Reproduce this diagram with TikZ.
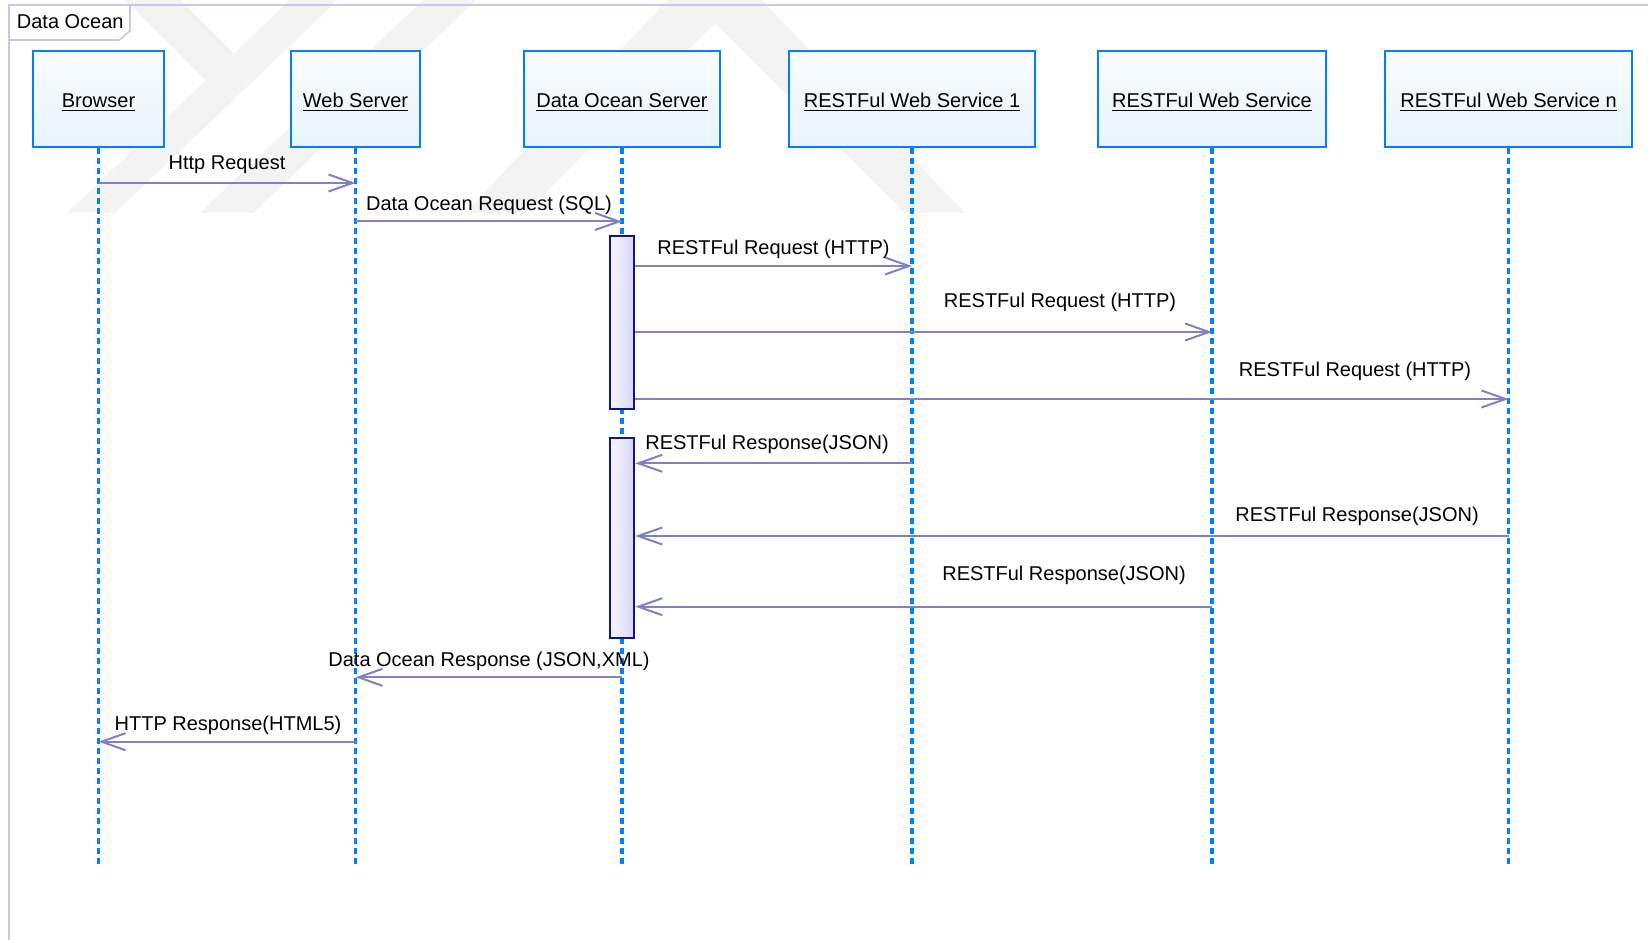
\documentclass[tikz,border=0pt]{standalone}
\usepackage{fontspec}
\setmainfont{Liberation Sans}
\usetikzlibrary{arrows.meta}
\definecolor{llblue}{RGB}{0,128,255}
\definecolor{boxtop}{RGB}{249,252,255}
\definecolor{boxbot}{RGB}{232,244,253}
\definecolor{msgc}{RGB}{128,128,200}
\definecolor{actline}{RGB}{20,20,130}
\definecolor{actl}{RGB}{247,247,255}
\definecolor{actr}{RGB}{214,214,248}
\definecolor{framec}{RGB}{200,200,228}
\definecolor{wmark}{RGB}{243,243,243}
\begin{document}
\begin{tikzpicture}[x=0.5pt,y=-0.5pt,
  every node/.style={font=\fontsize{10pt}{12pt}\selectfont},
  lifebox/.style={draw=llblue, line width=1.2pt, top color=boxtop, bottom color=boxbot, minimum height=48pt, inner sep=0pt, text height=8.7pt, text depth=0pt},
  lifeline/.style={draw=llblue, line width=1.6pt, dash pattern=on 3pt off 2pt},
  actbox/.style={draw=actline, line width=1pt, left color=actl, right color=actr, minimum width=12.25pt, inner sep=0pt},
  msg/.style={draw=msgc, line width=1pt, -{Straight Barb[length=12pt,width=8.5pt]}},
  lbl/.style={anchor=base, inner sep=0pt},
  framestyle/.style={draw=framec, line width=0.8pt},
  wm/.style={fill=wmark}
]
\useasboundingbox (0,0) rectangle (1648,940);
\fill[white] (0,0) rectangle (1648,940);
% watermark
\fill[wm] (67,213) -- (115,213) -- (338,0) -- (290,0) -- cycle;
\fill[wm] (125,0) -- (180,0) -- (233.8,53.8) -- (205.7,80.7) -- cycle;
\fill[wm] (200,213) -- (253,213) -- (476,0) -- (423,0) -- cycle;
\fill[wm] (465,213) -- (668,0) -- (762,0) -- (965,213) -- (905,213) -- (715,23) -- (525,213) -- cycle;
% frame
\draw[framestyle] (9,940) -- (9,5) -- (1648,5);
\draw[framestyle, fill=white] (9,5) -- (130,5) -- (130,31) -- (119,40) -- (9,40) -- cycle;
\node[anchor=base west, inner sep=0pt] (framelabel) at (16.5,28.3) {Data Ocean};
% lifeline heads
\node[lifebox, minimum width=65.5pt] (browser) at (98.5,99) {\underline{Browser}};
\node[lifebox, minimum width=64.5pt] (websrv) at (355.5,99) {\underline{Web Server}};
\node[lifebox, minimum width=98pt] (dos) at (622,99) {\underline{Data Ocean Server}};
\node[lifebox, minimum width=123pt] (ws1) at (912,99) {\underline{RESTFul Web Service 1}};
\node[lifebox, minimum width=114pt] (ws) at (1212,99) {\underline{RESTFul Web Service}};
\node[lifebox, minimum width=123.5pt] (wsn) at (1508.5,99) {\underline{RESTFul Web Service n}};
% lifelines
\coordinate (browserEnd) at (98.5,868);
\coordinate (websrvEnd) at (355.5,868);
\coordinate (dosEnd) at (622,868);
\coordinate (ws1End) at (912,868);
\coordinate (wsEnd) at (1212,868);
\coordinate (wsnEnd) at (1508.5,868);
\draw[lifeline] (browser.south) -- (browserEnd);
\draw[lifeline] (websrv.south) -- (websrvEnd);
\draw[lifeline] (dos.south) -- (dosEnd);
\draw[lifeline] (ws1.south) -- (ws1End);
\draw[lifeline] (ws.south) -- (wsEnd);
\draw[lifeline] (wsn.south) -- (wsnEnd);
% activations
\node[actbox, minimum height=86.5pt] (act1) at (622,322.5) {};
\node[actbox, minimum height=100pt] (act2) at (622,538) {};
% messages
\draw[msg] (browser.south |- 0,183) -- (websrv.south |- 0,183);
\node[lbl] (l1) at (227,170) {Http Request};
\draw[msg] (websrv.south |- 0,221.5) -- (dos.south |- 0,221.5);
\node[lbl] (l2) at (489,211) {Data Ocean Request (SQL)};
\draw[msg] (act1.east |- 0,266) -- (ws1.south |- 0,266);
\node[lbl] (l3) at (773.5,255) {RESTFul Request (HTTP)};
\draw[msg] (act1.east |- 0,332) -- (ws.south |- 0,332);
\node[lbl] (l4) at (1060,308) {RESTFul Request (HTTP)};
\draw[msg] (act1.east |- 0,399) -- (wsn.south |- 0,399);
\node[lbl] (l5) at (1355,376.5) {RESTFul Request (HTTP)};
\draw[msg] (ws1.south |- 0,463.3) -- (act2.east |- 0,463.3);
\node[lbl] (l6) at (767,450) {RESTFul Response(JSON)};
\draw[msg] (wsn.south |- 0,536) -- (act2.east |- 0,536);
\node[lbl] (l7) at (1357,522) {RESTFul Response(JSON)};
\draw[msg] (ws.south |- 0,606.7) -- (act2.east |- 0,606.7);
\node[lbl] (l8) at (1064,581) {RESTFul Response(JSON)};
\draw[msg] (dos.south |- 0,677.3) -- (websrv.south |- 0,677.3);
\node[lbl] (l9) at (489,666) {Data Ocean Response (JSON,XML)};
\draw[msg] (websrv.south |- 0,741.7) -- (browser.south |- 0,741.7);
\node[lbl] (l10) at (228,730) {HTTP Response(HTML5)};
\end{tikzpicture}
\end{document}
